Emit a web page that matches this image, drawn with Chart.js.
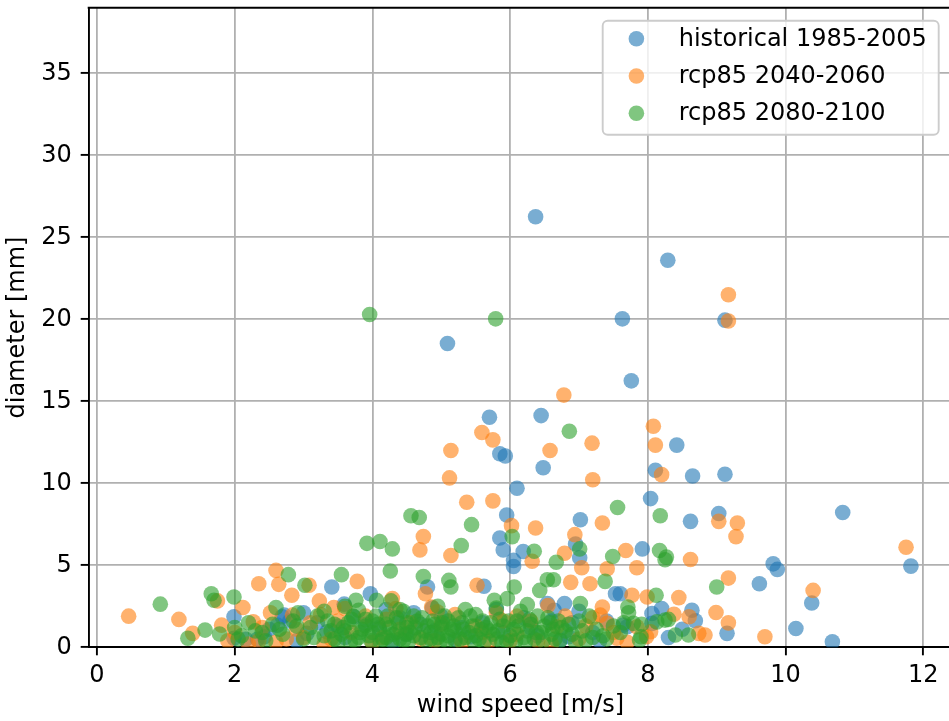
<!DOCTYPE html>
<html>
<head>
<meta charset="utf-8">
<script src="https://cdn.jsdelivr.net/npm/chart.js@4"></script>
<style>
  html, body { margin: 0; padding: 0; background: #fff; overflow: hidden; }
  #wrap { width: 960px; height: 721px; }
</style>
</head>
<body>
<div id="wrap"><canvas id="chart" width="960" height="721"></canvas></div>
<script>
const seriesLabels = ['historical 1985-2005', 'rcp85 2040-2060', 'rcp85 2080-2100'];
const seriesColors = ['31,119,180', '255,127,14', '44,160,44'];

const histWind = [6.37, 8.29, 7.63, 9.12, 5.09, 7.76, 5.70, 6.45, 8.42, 5.85, 5.93, 6.48, 8.11, 8.65, 9.12,
  6.10, 5.95, 7.02, 8.04, 8.62, 9.03, 10.83, 5.85, 6.95, 5.90, 6.19, 7.01, 7.92, 6.05, 6.05,
  11.82, 9.82, 9.88, 9.62, 10.38, 10.15, 10.68, 9.15, 8.64, 8.69, 8.20, 8.06, 7.60, 5.62, 4.80,
  3.41, 6.79, 3.59, 3.97, 4.87, 6.64, 7.70, 1.99, 2.69, 1.99, 2.16, 2.33, 2.43, 2.62, 3.05,
  3.34, 3.73, 2.72, 7.53, 6.54, 5.43, 6.85, 6.73, 7.64, 8.06, 4.10, 4.50, 4.90, 5.20, 5.60,
  5.90, 6.20, 6.40, 3.60, 3.90, 4.30, 5.00, 7.20, 7.40, 6.90, 8.30, 8.50, 4.60, 3.20, 2.90,
  2.50, 2.80, 3.50, 4.20, 4.70, 5.30, 5.80, 6.30, 6.60, 7.00, 7.30, 3.00, 4.40];
const histDiam = [26.26, 23.6, 20.03, 19.95, 18.53, 16.25, 14.03, 14.13, 12.33, 11.8, 11.67, 10.95, 10.8, 10.45, 10.55,
  9.7, 8.07, 7.78, 9.07, 7.68, 8.16, 8.22, 6.67, 6.3, 5.94, 5.84, 5.46, 6.0, 5.3, 4.93,
  4.95, 5.09, 4.75, 3.88, 2.7, 1.15, 0.34, 0.85, 2.26, 1.62, 2.37, 2.06, 3.27, 3.72, 3.68,
  3.68, 2.67, 2.63, 3.27, 2.4, 2.26, 1.25, 1.86, 1.86, 0.55, 0.49, 0.49, 0.64, 1.35, 0.85,
  0.95, 1.86, 1.96, 3.27, 2.67, 0.64, 0.64, 0.44, 1.35, 1.46, 1.2, 0.8, 1.0, 0.5, 1.5,
  0.9, 1.8, 0.7, 0.6, 1.4, 0.3, 1.9, 0.9, 1.6, 1.5, 0.6, 1.1, 2.1, 1.5, 0.4,
  1.1, 1.6, 1.3, 2.3, 1.4, 1.2, 2.3, 1.2, 1.6, 2.2, 0.4, 2.1, 1.8];

const mid50Wind = [9.17, 9.17, 6.78, 5.59, 5.75, 8.08, 8.11, 5.14, 6.58, 7.19, 8.20, 5.12, 7.20, 5.37, 5.75,
  6.02, 6.37, 7.34, 4.74, 6.94, 4.69, 5.14, 6.79, 7.68, 6.32, 7.04, 7.41, 7.84, 6.88, 7.16,
  5.52, 4.77, 4.29, 6.55, 7.77, 7.99, 7.34, 4.86, 9.03, 9.30, 9.28, 11.75, 8.62, 9.17, 10.40,
  8.45, 8.38, 8.60, 8.99, 9.17, 8.74, 8.83, 9.70, 2.60, 2.35, 2.64, 3.08, 3.78, 1.75, 2.83,
  3.23, 2.12, 0.46, 1.19, 1.39, 1.81, 2.27, 2.52, 2.84, 3.60, 3.44, 4.34, 4.94, 7.31, 7.41,
  7.84, 6.68, 7.55, 8.04, 7.98, 1.90, 2.20, 2.60, 3.00, 3.30, 3.70, 4.00, 4.40, 4.70, 5.00,
  5.30, 5.60, 6.00, 6.30, 6.60, 7.00, 7.20, 7.70, 3.50, 2.90, 4.20, 5.80, 6.10,
  2.00, 2.40, 2.75, 3.10, 3.40, 3.90, 4.15, 4.55, 4.90, 5.20, 5.50, 5.70, 6.10, 6.40, 6.80,
  7.10, 7.50, 3.25, 2.35, 5.90];
const mid50Diam = [21.5, 19.9, 15.38, 13.1, 12.65, 13.48, 12.33, 12.0, 12.0, 12.45, 10.53, 10.33, 10.22, 8.85, 8.93,
  7.42, 7.28, 7.58, 6.75, 6.87, 5.94, 5.6, 5.74, 5.9, 5.25, 4.85, 4.79, 4.85, 3.96, 3.88,
  3.78, 3.27, 2.97, 2.55, 3.17, 3.07, 2.46, 2.46, 7.68, 7.58, 6.75, 6.1, 5.35, 4.22, 3.47,
  3.03, 2.02, 1.86, 2.12, 1.49, 0.85, 0.75, 0.64, 4.69, 3.88, 3.84, 3.78, 4.02, 2.83, 3.17,
  2.83, 2.43, 1.9, 1.7, 0.85, 1.35, 1.55, 2.1, 1.96, 2.36, 2.43, 2.37, 2.16, 1.96, 1.46,
  1.25, 1.25, 0.55, 0.95, 0.64, 0.4, 0.2, 0.3, 0.6, 0.2, 0.9, 0.3, 1.1, 0.5, 1.4,
  0.3, 0.9, 0.4, 1.6, 0.2, 0.5, 1.8, 0.3, 1.6, 1.1, 1.7, 2.1, 0.8,
  0.9, 1.2, 0.5, 1.5, 0.5, 1.9, 0.6, 1.5, 0.4, 2.0, 1.3, 0.4, 1.9, 0.4, 1.9,
  1.3, 0.9, 2.0, 0.4, 1.6];

const late100Wind = [3.96, 5.79, 6.86, 4.56, 4.68, 7.56, 8.18, 5.44, 6.03, 3.92, 4.11, 4.29, 5.29, 6.35, 7.01,
  7.49, 8.17, 8.25, 6.67, 4.26, 4.74, 6.54, 6.63, 7.38, 5.11, 5.14, 6.43, 6.06, 4.27, 5.77,
  5.96, 8.12, 7.71, 7.72, 7.02, 9.00, 8.25, 8.40, 8.59, 2.78, 3.02, 3.55, 1.66, 1.70, 1.99,
  0.92, 1.32, 1.57, 1.78, 2.60, 2.92, 3.76, 4.06, 3.80, 7.79, 7.91, 8.13, 8.30, 7.90, 7.88,
  8.27, 2.00, 2.10, 2.30, 2.45, 2.55, 2.70, 2.85, 3.00, 3.10, 3.20, 3.30, 3.45, 3.50, 3.60,
  3.70, 3.80, 3.90, 4.00, 4.05, 4.15, 4.20, 4.30, 4.35, 4.45, 4.50, 4.60, 4.65, 4.75, 4.85,
  4.90, 5.00, 5.05, 5.15, 5.20, 5.30, 5.40, 5.50, 5.55, 5.65, 5.75, 5.85, 5.95, 6.05, 6.15,
  6.20, 6.30, 6.45, 6.55, 6.65, 6.75, 6.90, 7.00, 7.10, 7.25, 7.35, 7.50, 7.60, 4.40, 5.80, 3.30,
  3.55, 3.65, 3.75, 3.85, 3.95, 4.00, 4.10, 4.20, 4.25, 4.35, 4.40, 4.50, 4.55, 4.60, 4.70,
  4.80, 4.85, 4.95, 5.00, 5.10, 5.10, 5.20, 5.25, 5.35, 5.45, 5.50, 5.60, 5.70, 5.80, 5.90,
  6.00, 6.10, 6.25, 6.35, 6.40, 6.50, 6.60, 6.70, 6.80, 3.40, 3.15, 2.90, 2.65, 2.40, 2.20,
  2.05, 7.15, 7.40, 7.65, 4.45, 5.35, 3.60, 4.95, 6.25,
  3.35, 3.45, 3.58, 3.68, 3.72, 3.82, 3.90, 3.98, 4.08, 4.12, 4.22, 4.28, 4.38, 4.48, 4.52,
  4.62, 4.72, 4.78, 4.88, 4.98, 5.02, 5.08, 5.18, 5.28, 5.32, 5.42, 5.48, 5.58, 5.62, 5.72,
  5.82, 5.88, 5.98, 6.08, 6.12, 6.22, 6.28, 6.38, 6.48, 6.58, 6.62, 6.72, 6.85, 6.95, 7.05, 7.20];
const late100Diam = [20.3, 20.03, 13.18, 8.02, 7.92, 8.53, 8.02, 7.48, 6.75, 6.34, 6.45, 6.0, 6.2, 5.86, 6.0,
  5.54, 5.9, 5.34, 5.19, 4.65, 4.32, 4.12, 4.12, 4.02, 4.08, 3.68, 3.47, 3.68, 2.83, 2.87,
  2.97, 3.17, 2.46, 2.1, 2.67, 3.68, 1.66, 0.75, 0.75, 4.43, 3.78, 4.43, 3.27, 2.87, 3.07,
  2.63, 0.55, 1.05, 0.81, 2.43, 2.1, 2.87, 2.87, 2.26, 1.46, 1.41, 1.55, 1.7, 0.64, 0.45,
  5.5, 1.2, 0.7, 1.0, 0.4, 1.4, 0.8, 1.6, 0.5, 1.2, 1.9, 0.7, 1.4, 0.3, 1.0,
  1.7, 0.6, 1.3, 0.9, 1.9, 0.5, 1.4, 0.8, 1.8, 0.4, 1.2, 0.7, 1.6, 1.0, 0.5,
  1.4, 0.8, 1.9, 1.1, 0.4, 1.5, 0.9, 2.0, 0.5, 1.2, 0.8, 1.7, 0.4, 1.1, 2.2,
  0.6, 1.4, 0.9, 1.8, 0.5, 1.2, 0.8, 1.6, 0.4, 1.1, 0.7, 1.3, 0.9, 2.3, 2.4, 2.2,
  0.8, 1.5, 0.4, 1.1, 0.7, 1.6, 1.1, 0.6, 1.2, 0.9, 0.5, 1.5, 0.9, 1.9, 0.6,
  1.3, 0.9, 0.6, 1.2, 1.6, 0.7, 1.0, 1.8, 0.6, 1.3, 0.7, 1.6, 1.0, 0.5, 1.3,
  0.7, 1.6, 1.0, 0.5, 1.9, 1.3, 0.8, 1.6, 1.0, 1.0, 0.6, 1.3, 1.1, 0.9, 1.5,
  0.5, 1.9, 0.5, 1.5, 2.2, 2.3, 2.5, 2.5, 2.6,
  1.6, 0.5, 1.2, 0.3, 1.9, 0.9, 1.7, 0.4, 1.4, 0.3, 1.9, 0.4, 1.5, 0.8, 0.3,
  1.2, 1.8, 0.4, 1.6, 0.3, 1.5, 0.4, 1.3, 0.5, 1.1, 1.9, 0.3, 1.1, 0.3, 1.5,
  1.0, 0.3, 1.6, 0.4, 1.3, 0.3, 1.7, 0.9, 0.4, 1.5, 1.1, 0.4, 1.4, 0.3, 1.0, 0.6];

const xTicks = [0, 2, 4, 6, 8, 10, 12];
const yTicks = [0, 5, 10, 15, 20, 25, 30, 35];

const zip = (xs, ys) => xs.map((x, i) => ({ x, y: ys[i] }));
const FONT = 'DejaVu Sans';

function dataset(i, xs, ys) {
  const c = `rgba(${seriesColors[i]},0.6)`;
  return {
    label: seriesLabels[i],
    data: zip(xs, ys),
    backgroundColor: c,
    borderColor: c,
    borderWidth: 0,
    pointRadius: 7.8,
    pointHoverRadius: 7.8,
    order: 3 - i,
    clip: 0
  };
}

// top spine + matplotlib-like legend box
const framePlugin = {
  id: 'frame',
  afterDraw(chart) {
    const { ctx, chartArea: a } = chart;
    ctx.save();
    ctx.strokeStyle = '#000';
    ctx.lineWidth = 1.9;
    ctx.beginPath();
    ctx.moveTo(a.left - 1, a.top);
    ctx.lineTo(a.right, a.top);
    ctx.stroke();

    const right = a.right - 13.5, top = a.top + 13;
    const w = 336, h = 114;
    const left = right - w;
    ctx.beginPath();
    ctx.roundRect(left, top, w, h, 5);
    ctx.fillStyle = 'rgba(255,255,255,0.8)';
    ctx.fill();
    ctx.strokeStyle = '#cccccc';
    ctx.lineWidth = 1.9;
    ctx.stroke();

    ctx.font = `24px "${FONT}"`;
    ctx.textBaseline = 'middle';
    ctx.textAlign = 'left';
    chart.data.datasets.forEach((ds, i) => {
      const cy = top + 18 + i * 37.2;
      ctx.beginPath();
      ctx.arc(left + 33.7, cy, 7.8, 0, Math.PI * 2);
      ctx.fillStyle = ds.backgroundColor;
      ctx.fill();
      ctx.fillStyle = '#000';
      ctx.fillText(ds.label, left + 76, cy + 1);
    });
    ctx.restore();
  }
};

new Chart(document.getElementById('chart'), {
  type: 'scatter',
  data: {
    datasets: [
      dataset(0, histWind, histDiam),
      dataset(1, mid50Wind, mid50Diam),
      dataset(2, late100Wind, late100Diam)
    ]
  },
  options: {
    responsive: false,
    animation: false,
    devicePixelRatio: 1,
    layout: { padding: { left: 0, top: 4, right: 7.5, bottom: 0 } },
    plugins: {
      legend: { display: false },
      tooltip: { enabled: false }
    },
    scales: {
      x: {
        type: 'linear',
        min: -0.12,
        max: 12.42,
        afterBuildTicks: axis => { axis.ticks = xTicks.map(v => ({ value: v })); },
        afterFit: axis => { axis.height = 73.7; axis.paddingLeft = 0; axis.paddingRight = 0; },
        border: { color: '#000', width: 1.9 },
        grid: { color: '#b0b0b0', lineWidth: 1.8, tickColor: '#000', tickLength: 8, tickWidth: 1.9 },
        ticks: { color: '#000', font: { family: FONT, size: 24 }, padding: 6, maxRotation: 0 },
        title: { display: true, text: 'wind speed [m/s]', color: '#000', font: { family: FONT, size: 24 }, padding: { top: 0, bottom: 1 } }
      },
      y: {
        min: 0,
        max: 39,
        afterBuildTicks: axis => { axis.ticks = yTicks.map(v => ({ value: v })); },
        afterFit: axis => { axis.width = 88.7; axis.paddingTop = 0; axis.paddingBottom = 0; },
        border: { color: '#000', width: 1.9 },
        grid: { color: '#b0b0b0', lineWidth: 1.8, tickColor: '#000', tickLength: 8, tickWidth: 1.9 },
        ticks: { color: '#000', font: { family: FONT, size: 24 }, padding: 9 },
        title: { display: true, text: 'diameter [mm]', color: '#000', font: { family: FONT, size: 24 }, padding: { top: 3, bottom: 0 } }
      }
    }
  },
  plugins: [framePlugin]
});
</script>
</body>
</html>
